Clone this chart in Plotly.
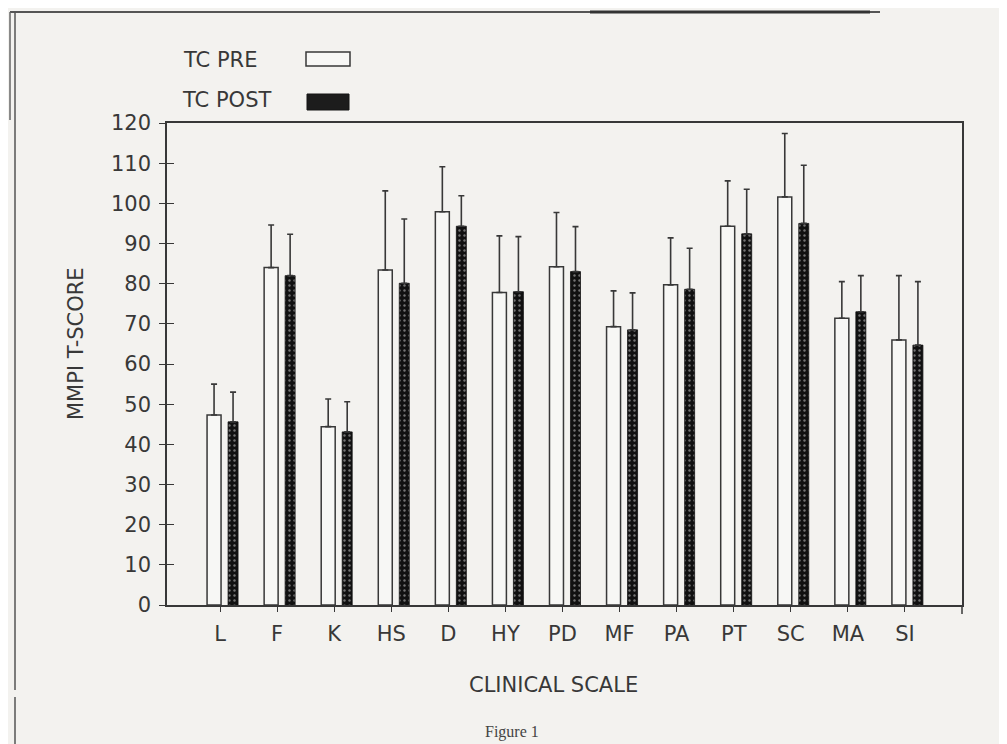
import plotly.graph_objects as go

# ---- data ----
scales = ["L", "F", "K", "HS", "D", "HY", "PD", "MF", "PA", "PT", "SC", "MA", "SI"]
pre_mean = [47.3, 84.0, 44.4, 83.4, 97.9, 77.8, 84.2, 69.3, 79.7, 94.3, 101.6, 71.4, 66.0]
pre_sd = [7.7, 10.6, 6.9, 19.7, 11.2, 14.1, 13.5, 8.9, 11.7, 11.3, 15.8, 9.1, 16.0]
post_mean = [45.6, 82.0, 43.1, 80.1, 94.3, 78.0, 83.0, 68.5, 78.6, 92.4, 95.0, 73.0, 64.7]
post_sd = [7.4, 10.3, 7.5, 16.0, 7.6, 13.7, 11.2, 9.2, 10.2, 11.1, 14.5, 9.0, 15.8]
y_ticks = [0, 10, 20, 30, 40, 50, 60, 70, 80, 90, 100, 110, 120]
series_names = ["TC PRE", "TC POST"]

# ---- layout geometry (pixels of the 1007x744 page; the page body adds an 8px inset) ----
PAGE_W, PAGE_H = 1007, 744
INSET = 8
W, H = PAGE_W - INSET, PAGE_H - INSET
L, R, T, B = 167, 962, 123, 605   # plot area in page pixels

def px(x):
    return (x - L) / (R - L)

def py(y):
    return (B - y) / (B - T)

INK = "#383838"
BG = "#f3f2ef"
FONT = "DejaVu Sans"

fig = go.Figure()
fig.add_trace(go.Bar(
    name=series_names[0], x=scales, y=pre_mean,
    offset=-0.228, width=0.245,
    marker=dict(color="#f7f7f5", line=dict(color=INK, width=1.5)),
    error_y=dict(type="data", symmetric=False, array=pre_sd,
                 arrayminus=[0] * len(scales), color=INK, thickness=1.6, width=3),
    showlegend=False, hoverinfo="skip",
))
fig.add_trace(go.Bar(
    name=series_names[1], x=scales, y=post_mean,
    offset=0.14, width=0.175,
    marker=dict(color="#111111", line=dict(color="#111111", width=0.8),
                pattern=dict(shape=".", fgcolor="#d8d8d8", size=5, solidity=0.18,
                             fillmode="overlay")),
    error_y=dict(type="data", symmetric=False, array=post_sd,
                 arrayminus=[0] * len(scales), color=INK, thickness=1.6, width=3),
    showlegend=False, hoverinfo="skip",
))
# invisible trace so the overlaid tick axis (crossing ticks) is drawn
fig.add_trace(go.Scatter(x=scales[:1], y=y_ticks[:1], yaxis="y2", mode="markers",
                         marker=dict(opacity=0), showlegend=False, hoverinfo="skip"))

fig.update_layout(
    width=W, height=H,
    margin=dict(l=L - INSET, r=PAGE_W - R, t=T - INSET, b=PAGE_H - B, pad=0),
    paper_bgcolor=BG, plot_bgcolor=BG,
    font=dict(family=FONT, color=INK, size=21),
    barmode="overlay",
    xaxis=dict(
        type="category", range=[-0.93, 13.0],
        showline=True, linecolor=INK, linewidth=1.5, mirror=True,
        ticks="outside", ticklen=5, tickcolor=INK, tickwidth=1.2,
        showgrid=False, zeroline=False,
        tickfont=dict(size=21, color=INK),
        ticklabelstandoff=4,
    ),
    yaxis=dict(
        range=[0, 120], tickvals=y_ticks,
        showline=True, linecolor=INK, linewidth=1.5, mirror=True,
        ticks="outside", ticklen=6, tickcolor=INK, tickwidth=1.4,
        showgrid=False, zeroline=False,
        tickfont=dict(size=21, color=INK),
        ticklabelstandoff=4,
    ),
    yaxis2=dict(
        range=[0, 120], tickvals=y_ticks, overlaying="y", anchor="x", side="left",
        ticks="inside", ticklen=7, tickcolor=INK, tickwidth=1.4,
        showticklabels=False, showline=False, showgrid=False, zeroline=False,
    ),
)

annotations = [
    dict(text="MMPI T-SCORE", x=px(76), y=py(344), xref="paper", yref="paper",
         xanchor="center", yanchor="middle",
         textangle=-90, showarrow=False, font=dict(size=21, color=INK)),
    dict(text="CLINICAL SCALE", x=px(553), y=py(685), xref="paper", yref="paper",
         xanchor="center", yanchor="middle",
         showarrow=False, font=dict(size=21, color=INK)),
    dict(text=series_names[0], x=px(181), y=py(60), xref="paper", yref="paper",
         xanchor="left", yanchor="middle", showarrow=False, font=dict(size=21, color=INK)),
    dict(text=series_names[1], x=px(180), y=py(100), xref="paper", yref="paper",
         xanchor="left", yanchor="middle", showarrow=False, font=dict(size=21, color=INK)),
    dict(text="Figure 1", x=px(512), y=py(743), xref="paper", yref="paper",
         xanchor="center", yanchor="bottom", showarrow=False,
         font=dict(size=16, color="#444", family="Liberation Serif")),
]
fig.update_layout(annotations=annotations)

shapes = [
    # legend swatches
    dict(type="rect", xref="paper", yref="paper", x0=px(306), x1=px(350),
         y0=py(66), y1=py(52), line=dict(color=INK, width=1.5), fillcolor="#f7f7f5"),
    dict(type="rect", xref="paper", yref="paper", x0=px(307), x1=px(349),
         y0=py(110), y1=py(94), line=dict(color="#151515", width=1), fillcolor="#1c1c1c"),
    # page frame of the scanned sheet
    dict(type="line", xref="paper", yref="paper", x0=px(10), x1=px(880),
         y0=py(12), y1=py(12), line=dict(color="#555", width=2)),
    dict(type="line", xref="paper", yref="paper", x0=px(590), x1=px(870),
         y0=py(12), y1=py(12), line=dict(color="#333", width=3)),
    dict(type="line", xref="paper", yref="paper", x0=px(10), x1=px(10),
         y0=py(12), y1=py(120), line=dict(color="#666", width=1.5)),
    dict(type="line", xref="paper", yref="paper", x0=px(15), x1=px(15),
         y0=py(12), y1=py(690), line=dict(color="#555", width=1.5)),
    dict(type="line", xref="paper", yref="paper", x0=px(15), x1=px(15),
         y0=py(697), y1=py(744), line=dict(color="#555", width=1.5)),
    # right border extends slightly below the axis
    dict(type="line", xref="paper", yref="paper", x0=px(962), x1=px(962),
         y0=py(605), y1=py(614), line=dict(color=INK, width=1.5)),
]
fig.update_layout(shapes=shapes)

fig.write_html("out.html")
